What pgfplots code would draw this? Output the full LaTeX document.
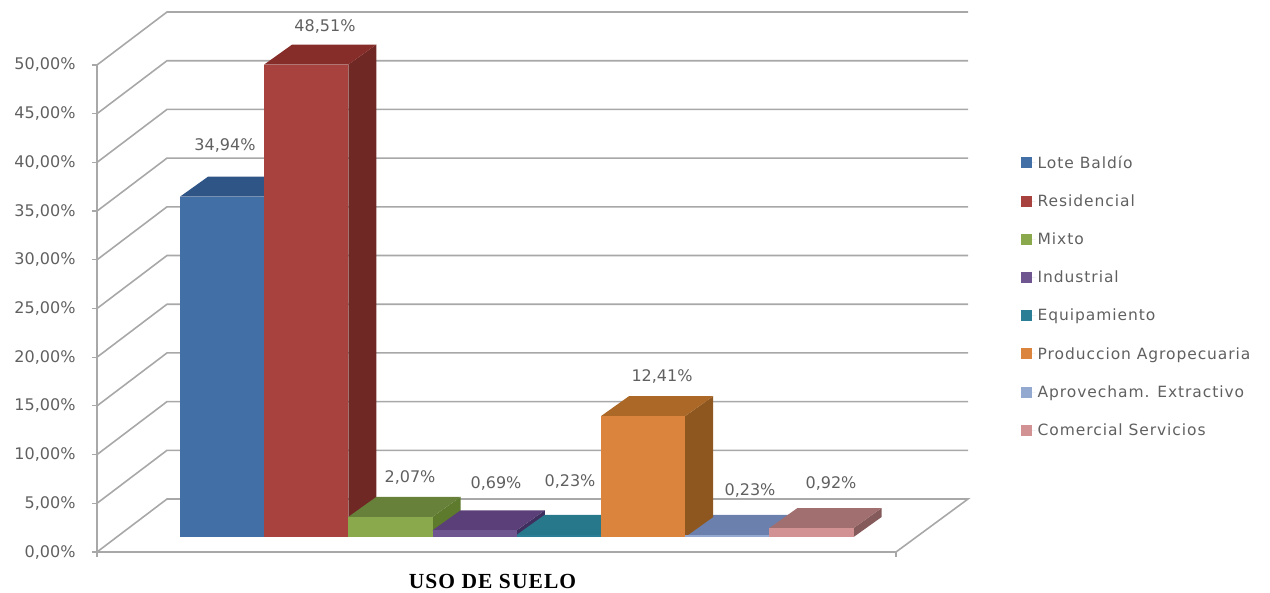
\documentclass[border=0pt]{standalone}
\usepackage{pgfplots}
\pgfplotsset{compat=1.18}
\usepackage{fontspec}
\setmainfont{DejaVu Sans}
\newfontfamily\titlefont{Liberation Serif}
\definecolor{lblgray}{HTML}{606060}
\definecolor{gridgray}{HTML}{A8A8A8}
\definecolor{blF}{HTML}{4270A6}\definecolor{blT}{HTML}{2F5587}\definecolor{blS}{HTML}{2B4E7C}
\definecolor{reF}{HTML}{A8423F}\definecolor{reT}{HTML}{862D2A}\definecolor{reS}{HTML}{702825}
\definecolor{grF}{HTML}{8AA84C}\definecolor{grT}{HTML}{67813A}\definecolor{grS}{HTML}{5E7A2C}
\definecolor{puF}{HTML}{6F5690}\definecolor{puT}{HTML}{5A3F78}\definecolor{puS}{HTML}{3F2F5E}
\definecolor{teF}{HTML}{2A7F96}\definecolor{teT}{HTML}{28788C}\definecolor{teS}{HTML}{1F6070}
\definecolor{orF}{HTML}{DB843D}\definecolor{orT}{HTML}{AB6826}\definecolor{orS}{HTML}{8F5720}
\definecolor{aqF}{HTML}{93A9CF}\definecolor{aqT}{HTML}{6B80AD}\definecolor{aqS}{HTML}{5B6E97}
\definecolor{piF}{HTML}{D29192}\definecolor{piT}{HTML}{A16F70}\definecolor{piS}{HTML}{855A5A}
\newcommand{\lbl}[3]{\node[text=lblgray,font=\fontsize{16}{18}\selectfont,anchor=center] at (axis cs:#1,#2) {#3};}
\begin{document}
\begin{tikzpicture}[x=1pt,y=1pt]
\path[use as bounding box] (0,0) rectangle (1270,593);
\begin{axis}[
  at={(97pt,41pt)}, anchor=south west,
  scale only axis, width=799pt, height=487pt,
  xmin=97, xmax=896, ymin=0, ymax=50,
  clip=false,
  axis x line*=bottom, axis y line*=left,
  axis line style={gridgray,line width=1.6pt,-},
  major tick style={gridgray,line width=1.2pt},
  major tick length=5pt,
  tick align=outside,
  xtick={97,896}, xticklabels={,},
  ytick={0,5,10,15,20,25,30,35,40,45,50},
  yticklabels={{0,00\%},{5,00\%},{10,00\%},{15,00\%},{20,00\%},{25,00\%},{30,00\%},{35,00\%},{40,00\%},{45,00\%},{50,00\%}},
  yticklabel style={text=lblgray,font=\fontsize{16}{18}\selectfont,anchor=east,xshift=-13pt},
  legend cell align=left,
  legend style={at={(axis cs:1021,40.9)},anchor=north west,draw=none,fill=none,
     font=\fontsize{15.5}{18}\selectfont\addfontfeature{LetterSpace=6}\color{lblgray},row sep=20.9pt,inner sep=0pt},
  legend image code/.code={\fill[#1] (0pt,-5.5pt) rectangle (11pt,5.5pt);\path (0pt,0pt) -- (14.5pt,0pt);},
]
% walls and floor
\addplot[gridgray,line width=1.6pt,forget plot] coordinates {(97,0)(896,0)};
\addplot[gridgray,line width=1.6pt,forget plot] coordinates {(97,0)(167,5.44)(968,5.44)(896,0)};
\addplot[gridgray,line width=1.6pt,forget plot] coordinates {(97,5)(167,10.44)(968,10.44)};
\addplot[gridgray,line width=1.6pt,forget plot] coordinates {(97,10)(167,15.44)(968,15.44)};
\addplot[gridgray,line width=1.6pt,forget plot] coordinates {(97,15)(167,20.44)(968,20.44)};
\addplot[gridgray,line width=1.6pt,forget plot] coordinates {(97,20)(167,25.44)(968,25.44)};
\addplot[gridgray,line width=1.6pt,forget plot] coordinates {(97,25)(167,30.44)(968,30.44)};
\addplot[gridgray,line width=1.6pt,forget plot] coordinates {(97,30)(167,35.44)(968,35.44)};
\addplot[gridgray,line width=1.6pt,forget plot] coordinates {(97,35)(167,40.44)(968,40.44)};
\addplot[gridgray,line width=1.6pt,forget plot] coordinates {(97,40)(167,45.44)(968,45.44)};
\addplot[gridgray,line width=1.6pt,forget plot] coordinates {(97,45)(167,50.44)(968,50.44)};
\addplot[gridgray,line width=1.6pt,forget plot] coordinates {(97,50)(167,55.44)(968,55.44)};
% Lote Baldio 34,94
\addplot[draw=none,fill=blS,forget plot] coordinates {(264.2,1.54)(292.2,3.59)(292.2,38.53)(264.2,36.48)};
\addplot[draw=none,fill=blT,forget plot] coordinates {(180,36.48)(208,38.53)(292.2,38.53)(264.2,36.48)};
\addplot[draw=none,fill=blF] coordinates {(180,1.54)(180,36.48)(264.2,36.48)(264.2,1.54)};
\addlegendentry{Lote Baldío}
% Residencial 48,51
\addplot[draw=none,fill=reS,forget plot] coordinates {(348.4,1.54)(376.4,3.59)(376.4,52.10)(348.4,50.05)};
\addplot[draw=none,fill=reT,forget plot] coordinates {(264.2,50.05)(292.2,52.10)(376.4,52.10)(348.4,50.05)};
\addplot[draw=none,fill=reF] coordinates {(264.2,1.54)(264.2,50.05)(348.4,50.05)(348.4,1.54)};
\addlegendentry{Residencial}
% Mixto 2,07
\addplot[draw=none,fill=grS,forget plot] coordinates {(432.6,1.54)(460.6,3.59)(460.6,5.66)(432.6,3.61)};
\addplot[draw=none,fill=grT,forget plot] coordinates {(348.4,3.61)(376.4,5.66)(460.6,5.66)(432.6,3.61)};
\addplot[draw=none,fill=grF] coordinates {(348.4,1.54)(348.4,3.61)(432.6,3.61)(432.6,1.54)};
\addlegendentry{Mixto}
% Industrial 0,69
\addplot[draw=none,fill=puS,forget plot] coordinates {(516.8,1.54)(544.8,3.59)(544.8,4.28)(516.8,2.23)};
\addplot[draw=none,fill=puT,forget plot] coordinates {(432.6,2.23)(460.6,4.28)(544.8,4.28)(516.8,2.23)};
\addplot[draw=none,fill=puF] coordinates {(432.6,1.54)(432.6,2.23)(516.8,2.23)(516.8,1.54)};
\addlegendentry{Industrial}
% Equipamiento 0,23
\addplot[draw=none,fill=teS,forget plot] coordinates {(601,1.54)(629,3.59)(629,3.82)(601,1.77)};
\addplot[draw=none,fill=teT,forget plot] coordinates {(516.8,1.77)(544.8,3.82)(629,3.82)(601,1.77)};
\addplot[draw=none,fill=teF] coordinates {(516.8,1.54)(516.8,1.77)(601,1.77)(601,1.54)};
\addlegendentry{Equipamiento}
% Aprovecham. Extractivo 0,23 (top lies behind the orange side)
\addplot[draw=none,fill=aqT,forget plot] coordinates {(685.2,1.77)(713.2,3.82)(797.4,3.82)(769.4,1.77)};
% Produccion Agropecuaria 12,41
\addplot[draw=none,fill=orS,forget plot] coordinates {(685.2,1.54)(713.2,3.59)(713.2,16.00)(685.2,13.95)};
\addplot[draw=none,fill=orT,forget plot] coordinates {(601,13.95)(629,16.00)(713.2,16.00)(685.2,13.95)};
\addplot[draw=none,fill=orF] coordinates {(601,1.54)(601,13.95)(685.2,13.95)(685.2,1.54)};
\addlegendentry{Produccion Agropecuaria}
\addplot[draw=none,fill=aqF] coordinates {(685.2,1.54)(685.2,1.77)(769.4,1.77)(769.4,1.54)};
\addlegendentry{Aprovecham. Extractivo}
% Comercial Servicios 0,92
\addplot[draw=none,fill=piS,forget plot] coordinates {(853.6,1.54)(881.6,3.59)(881.6,4.51)(853.6,2.46)};
\addplot[draw=none,fill=piT,forget plot] coordinates {(769.4,2.46)(797.4,4.51)(881.6,4.51)(853.6,2.46)};
\addplot[draw=none,fill=piF] coordinates {(769.4,1.54)(769.4,2.46)(853.6,2.46)(853.6,1.54)};
\addlegendentry{Comercial Servicios}
% data labels
\lbl{325}{54.0}{48,51\%}
\lbl{225}{41.7}{34,94\%}
\lbl{410}{7.7}{2,07\%}
\lbl{496}{7.0}{0,69\%}
\lbl{570}{7.2}{0,23\%}
\lbl{662}{18.0}{12,41\%}
\lbl{750}{6.3}{0,23\%}
\lbl{831}{7.0}{0,92\%}
\node[font=\titlefont\bfseries\fontsize{21.5}{24}\selectfont\addfontfeature{LetterSpace=5},text=black,anchor=center] at (axis cs:492.5,-3.0) {USO DE SUELO};
\end{axis}
\end{tikzpicture}
\end{document}
